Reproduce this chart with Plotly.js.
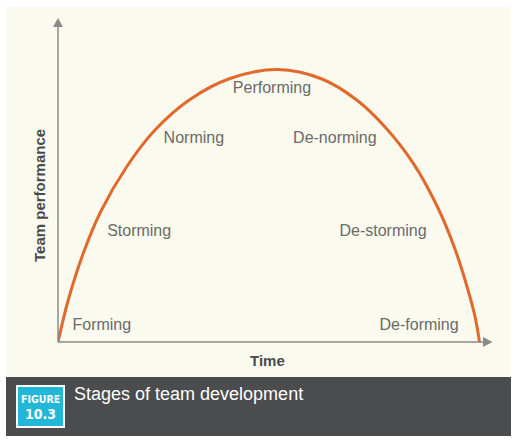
<!DOCTYPE html>
<html>
<head>
<meta charset="utf-8">
<script src="https://cdn.plot.ly/plotly-3.0.1.min.js"></script>
<style>html,body{margin:0;padding:0;background:#fff;}#chart{width:516px;height:441px;}</style>
</head>
<body>
<div id="chart"></div>
<script>
// Curve of team performance over time
var timeVals = [0, 2.30, 5.76, 9.91, 15.83, 22.35, 30.41, 39.63, 50.69, 60.83, 68.82, 75.35, 81.87, 87.56, 91.47, 94.47, 96.08, 97.12];
var perfVals = [0, 12.65, 27.16, 40.43, 54.10, 65.43, 74.85, 81.33, 84.10, 81.17, 74.69, 66.36, 55.15, 41.36, 28.70, 16.05, 7.87, 0];

// Stage labels and where they sit in data space
var stageNames = ["Forming", "Storming", "Norming", "Performing", "De-norming", "De-storming", "De-forming"];
var stageX = [10.1, 18.7, 31.3, 49.3, 63.8, 74.9, 83.2];
var stageY = [4.9, 34, 62.7, 78, 62.7, 34, 4.9];

var xTitle = "Time";
var yTitle = "Team performance";
var figTitle = "Stages of team development";
var figLabel = ["FIGURE", "10.3"];

// plot area in pixels: l=58, r=492, t=18, b=342
function px(x){ return (x - 58) / 434; }
function py(y){ return (342 - y) / 324; }

var font = "Liberation Sans, Arial, sans-serif";
var narrow = "DejaVu Sans Condensed, Liberation Sans Narrow, sans-serif";
var axisCol = "#8a8a8a";

var traces = [
  {
    x: timeVals, y: perfVals, type: "scatter", mode: "lines",
    line: {color: "#e0692b", width: 3, shape: "spline", smoothing: 1},
    hoverinfo: "skip", showlegend: false
  },
  {
    x: stageX, y: stageY, text: stageNames, type: "scatter", mode: "text",
    textposition: "middle center",
    textfont: {family: font, size: 16, color: "#6a6a6a"},
    hoverinfo: "skip", showlegend: false
  }
];

var shapes = [
  // cream panel
  {type: "rect", xref: "paper", yref: "paper", x0: px(6), x1: px(511), y0: py(377), y1: py(7),
   fillcolor: "#fafaee", line: {width: 0}, layer: "below"},
  // dark caption band
  {type: "rect", xref: "paper", yref: "paper", x0: px(6), x1: px(511), y0: py(436), y1: py(377),
   fillcolor: "#4b4c4e", line: {width: 0}, layer: "below"},
  // badge
  {type: "rect", xref: "paper", yref: "paper", x0: px(17), x1: px(64), y0: py(427), y1: py(386),
   fillcolor: "#22b6d8", line: {color: "#ffffff", width: 2}, layer: "above"},
  // x axis line and arrowhead
  {type: "line", xref: "paper", yref: "paper", x0: 0, x1: px(484), y0: 0, y1: 0,
   line: {color: axisCol, width: 1.5}},
  {type: "path", xref: "paper", yref: "paper",
   path: "M" + px(492.5) + "," + py(342) + " L" + px(483) + "," + py(337) + " L" + px(483) + "," + py(347) + " Z",
   fillcolor: axisCol, line: {width: 0}},
  // y axis line and arrowhead
  {type: "line", xref: "paper", yref: "paper", x0: 0, x1: 0, y0: 0, y1: py(26),
   line: {color: axisCol, width: 1.5}},
  {type: "path", xref: "paper", yref: "paper",
   path: "M" + px(58) + "," + py(18) + " L" + px(53) + "," + py(27) + " L" + px(63) + "," + py(27) + " Z",
   fillcolor: axisCol, line: {width: 0}}
];

var annotations = [
  {text: xTitle, xref: "paper", yref: "paper", x: px(267), y: py(360), showarrow: false,
   xanchor: "center", yanchor: "middle", font: {family: font, size: 15, color: "#4a4a4a", weight: "bold"}},
  {text: yTitle, xref: "paper", yref: "paper", x: px(39), y: py(196), showarrow: false, textangle: -90,
   xanchor: "center", yanchor: "middle", font: {family: font, size: 15, color: "#4a4a4a", weight: "bold"}},
  {text: figTitle, xref: "paper", yref: "paper", x: px(72), y: py(394), showarrow: false,
   xanchor: "left", yanchor: "middle", font: {family: font, size: 18, color: "#ffffff"}},
  {text: "<b>" + figLabel[0] + "</b>", xref: "paper", yref: "paper", x: px(40.5), y: py(399), showarrow: false,
   xanchor: "center", yanchor: "middle", font: {family: narrow, size: 10.5, color: "#ffffff"}},
  {text: "<b>" + figLabel[1] + "</b>", xref: "paper", yref: "paper", x: px(40.5), y: py(414), showarrow: false,
   xanchor: "center", yanchor: "middle", font: {family: narrow, size: 14, color: "#ffffff"}}
];

var layout = {
  width: 516, height: 441,
  margin: {l: 58, r: 24, t: 18, b: 99, pad: 0},
  paper_bgcolor: "#ffffff",
  plot_bgcolor: "rgba(0,0,0,0)",
  xaxis: {range: [0, 100], showgrid: false, zeroline: false, showline: false, showticklabels: false, ticks: "", fixedrange: true},
  yaxis: {range: [0, 100], showgrid: false, zeroline: false, showline: false, showticklabels: false, ticks: "", fixedrange: true},
  shapes: shapes,
  annotations: annotations,
  showlegend: false
};

Plotly.newPlot("chart", traces, layout, {displayModeBar: false, staticPlot: true});
</script>
</body>
</html>
